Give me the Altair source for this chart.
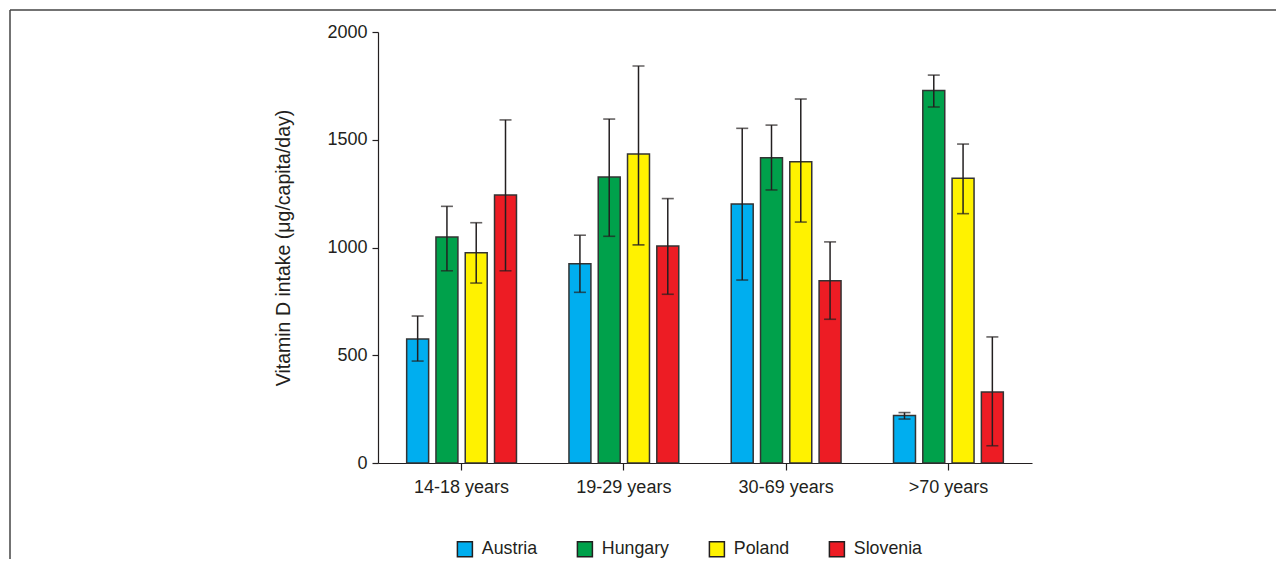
import altair as alt
import pandas as pd

ages = ["14-18 years", "19-29 years", "30-69 years", ">70 years"]
countries = ["Austria", "Hungary", "Poland", "Slovenia"]
colors = ["#00AEEF", "#00A14B", "#FFF200", "#ED1C24"]

# mean, lower error, upper error for each country across age groups
austria_mean = [575, 925, 1202, 220]
austria_lo = [473, 792, 849, 204]
austria_hi = [682, 1057, 1553, 234]

hungary_mean = [1049, 1327, 1417, 1729]
hungary_lo = [892, 1052, 1267, 1652]
hungary_hi = [1191, 1596, 1568, 1800]

poland_mean = [976, 1434, 1398, 1321]
poland_lo = [835, 1012, 1118, 1157]
poland_hi = [1115, 1842, 1689, 1480]

slovenia_mean = [1244, 1007, 846, 329]
slovenia_lo = [892, 783, 667, 80]
slovenia_hi = [1592, 1227, 1026, 585]

series = {
    "Austria": (austria_mean, austria_lo, austria_hi),
    "Hungary": (hungary_mean, hungary_lo, hungary_hi),
    "Poland": (poland_mean, poland_lo, poland_hi),
    "Slovenia": (slovenia_mean, slovenia_lo, slovenia_hi),
}

rows = []
for c in countries:
    m, lo, hi = series[c]
    for i, a in enumerate(ages):
        rows.append({"age": a, "country": c, "value": m[i], "lo": lo[i], "hi": hi[i]})
df = pd.DataFrame(rows)

FONT = "Liberation Sans"
TXT = "#231f20"

x = alt.X("age:N", sort=ages, title=None,
          scale=alt.Scale(paddingInner=0.28, paddingOuter=0.155),
          axis=alt.Axis(labelAngle=0, labelFontSize=18, labelFont=FONT, labelColor=TXT,
                        tickSize=7, tickColor=TXT, domainColor=TXT, domainWidth=1.2,
                        tickWidth=1.2, labelPadding=8))
xo = alt.XOffset("country:N", sort=countries,
                 scale=alt.Scale(paddingInner=0.25, paddingOuter=0.12))

base = alt.Chart(df)

bars = base.mark_bar(stroke="#333333", strokeWidth=1.5).encode(
    x=x,
    xOffset=xo,
    y=alt.Y("value:Q", title="Vitamin D intake (μg/capita/day)",
            scale=alt.Scale(domain=[0, 2000], nice=False),
            axis=alt.Axis(values=[0, 500, 1000, 1500, 2000], grid=False, format="d",
                          labelFontSize=18, labelFont=FONT, labelColor=TXT,
                          tickSize=6, tickColor=TXT, domainColor=TXT, domainWidth=1.2,
                          tickWidth=1.2, labelPadding=5,
                          titleFont=FONT, titleFontSize=19.5, titleFontWeight="normal",
                          titleColor=TXT, titlePadding=33)),
    fill=alt.Fill("country:N", sort=countries,
                  scale=alt.Scale(domain=countries, range=colors),
                  legend=alt.Legend(title=None, orient="none", direction="horizontal",
                                    legendX=78, legendY=508,
                                    symbolType="square", symbolSize=225,
                                    symbolStrokeColor="#231f20", symbolStrokeWidth=1.5,
                                    labelFont=FONT, labelFontSize=17.8, labelColor=TXT,
                                    labelOffset=8, columnPadding=36)),
)

err = base.mark_rule(color="#231f20", strokeWidth=1.5).encode(
    x=alt.X("age:N", sort=ages), xOffset=xo, y="lo:Q", y2="hi:Q")
cap_hi = base.mark_tick(color="#231f20", size=12, thickness=1.6).encode(
    x=alt.X("age:N", sort=ages), xOffset=xo, y="hi:Q")
cap_lo = base.mark_tick(color="#231f20", size=12, thickness=1.6).encode(
    x=alt.X("age:N", sort=ages), xOffset=xo, y="lo:Q")

frame_data = alt.Data(values=[{"k": 1}])
frame_top = alt.Chart(frame_data).mark_rule(color="#444444", strokeWidth=1.5, clip=False).encode(
    x=alt.value(-368), x2=alt.value(910), y=alt.value(-22))
frame_left = alt.Chart(frame_data).mark_rule(color="#444444", strokeWidth=1.5, clip=False).encode(
    x=alt.value(-368), y=alt.value(-22), y2=alt.value(540))

chart = alt.layer(bars, err, cap_hi, cap_lo, frame_top, frame_left).properties(
    width=654, height=431,
    autosize=alt.AutoSizeParams(type="none"),
    padding={"left": 370, "top": 24, "right": 244, "bottom": 96},
    background="white",
).configure_view(stroke=None)

chart.save("out.html", embed_options={"renderer": "svg", "actions": False})
